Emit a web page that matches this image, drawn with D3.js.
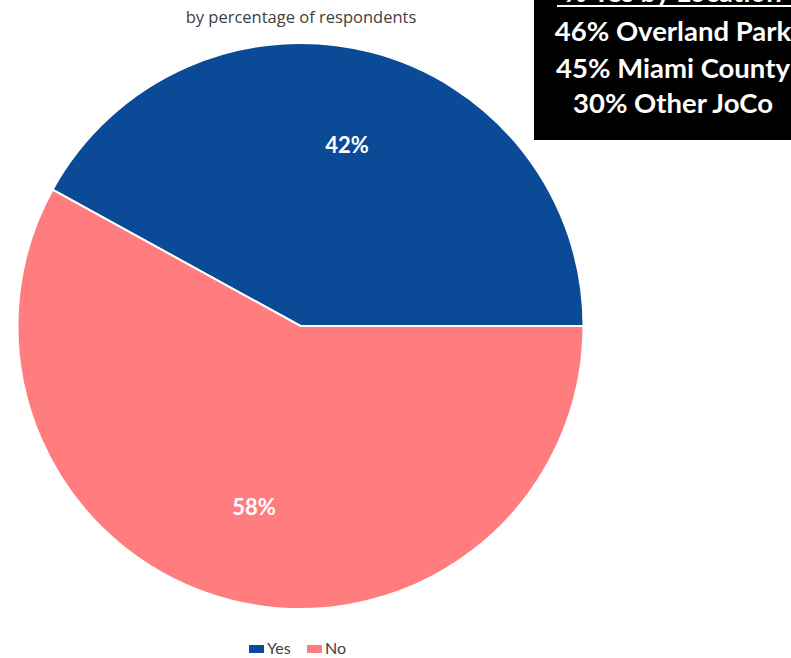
<!DOCTYPE html>
<html><head><meta charset="utf-8">
<script src="https://cdn.jsdelivr.net/npm/d3@7"></script>
<style>body{margin:0;background:#fff}svg{display:block}</style>
</head><body>
<svg id="c" width="791" height="658"></svg>
<script>
const categories = ["Yes", "No"];
const values = [42, 58];
const colors = ["#0b4a96", "#ff7d7f"];
const boxLines = ["% Yes by Location", "46% Overland Park", "45% Miami County", "30% Other JoCo"];
const subtitle = "by percentage of respondents";

const svg = d3.select("#c");
const cx = 300.5, cy = 326, r = 283;
const total = d3.sum(values);
const start = Math.PI / 2 - (values[0] / total) * 2 * Math.PI;
const pie = d3.pie().sort(null).startAngle(start).endAngle(start + 2 * Math.PI);
const arcs = pie(values);
const arc = d3.arc().innerRadius(0).outerRadius(r);
const g = svg.append("g").attr("transform", `translate(${cx},${cy})`);
g.selectAll("path").data(arcs).join("path")
  .attr("d", arc).attr("fill", (d, i) => colors[i])
  .attr("stroke", "#fff").attr("stroke-width", 2);
const labelArc = d3.arc().innerRadius(r * 0.66).outerRadius(r * 0.66);
g.selectAll("text").data(arcs).join("text")
  .attr("transform", d => `translate(${labelArc.centroid(d)})`)
  .attr("text-anchor", "middle").attr("dy", "0.35em")
  .attr("fill", "#fff").attr("font-family", "Lato, sans-serif").attr("font-weight", "bold")
  .attr("font-size", 22)
  .text(d => d.data + "%");

svg.append("text").attr("x", 301).attr("y", 23).attr("text-anchor", "middle")
  .attr("font-family", "'Open Sans', sans-serif").attr("font-size", 16.5).attr("fill", "#404040")
  .text(subtitle);

// box
svg.append("rect").attr("x", 534).attr("y", -2).attr("width", 260).attr("height", 142).attr("fill", "#000");
const ys = [2, 41, 78, 113];
boxLines.forEach((t, i) => {
  svg.append("text").attr("x", 673).attr("y", ys[i]).attr("text-anchor", "middle")
    .attr("font-family", "Lato, sans-serif").attr("font-weight", "bold").attr("font-size", 27.5)
    .attr("fill", "#fff").text(t);
});
svg.append("line").attr("x1", 557).attr("x2", 791).attr("y1", 6).attr("y2", 6)
  .attr("stroke", "#fff").attr("stroke-width", 2);

// legend
const lx = [249, 307];
categories.forEach((c, i) => {
  svg.append("rect").attr("x", lx[i]).attr("y", 645).attr("width", 15).attr("height", 8).attr("fill", colors[i]);
  svg.append("text").attr("x", lx[i] + 18).attr("y", 654)
    .attr("font-family", "Lato, sans-serif").attr("font-size", 16).attr("fill", "#404040").text(c);
});
</script>
</body></html>
